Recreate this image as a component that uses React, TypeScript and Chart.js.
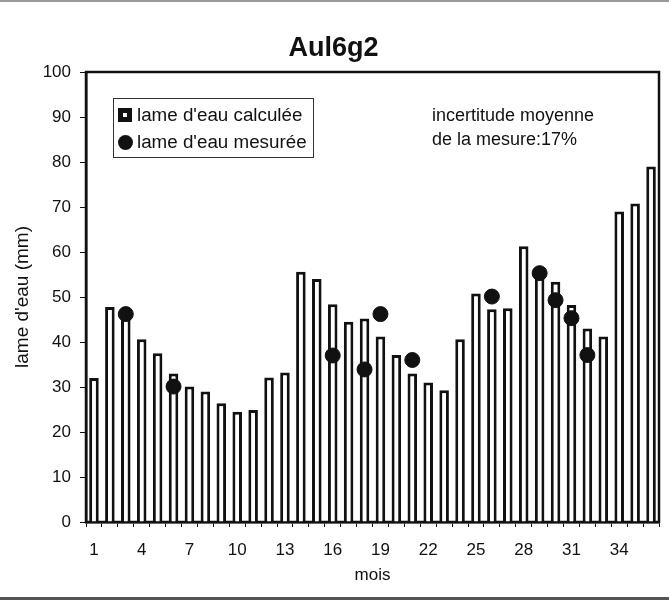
import React, { useEffect, useRef } from "react";
import { Chart, registerables } from "chart.js";

Chart.register(...registerables);

const months: string[] = Array.from({ length: 36 }, (_, i) => String(i + 1));

const calculee: number[] = [
  32, 47.8, 47, 40.6, 37.5, 33, 30.1, 29, 26.4, 24.5, 24.9, 32.1,
  33.2, 55.6, 54, 48.4, 44.5, 45.2, 41.2, 37.1, 33, 31, 29.3, 40.6,
  50.8, 47.3, 47.5, 61.3, 56.6, 53.4, 48.2, 43, 41.2, 69, 70.8, 79,
];

const mesuree: (number | null)[] = [
  null, null, 46.2, null, null, 30.1, null, null, null, null, null, null,
  null, null, null, 37, null, 33.9, 46.2, null, 36, null, null, null,
  null, 50.1, null, null, 55.3, 49.3, 45.3, 37.1, null, null, null, null,
];

const yTicks: number[] = [0, 10, 20, 30, 40, 50, 60, 70, 80, 90, 100];

const FONT = "'Liberation Sans', Arial, sans-serif";

const framePlugin = {
  id: "frame",
  beforeDatasetsDraw(chart: any) {
    const { ctx, chartArea } = chart;
    ctx.save();
    ctx.strokeStyle = "#111";
    ctx.lineWidth = 2.5;
    ctx.strokeRect(chartArea.left, chartArea.top, chartArea.right - chartArea.left, chartArea.bottom - chartArea.top);
    ctx.restore();
  },
};

export default function App() {
  const ref = useRef<HTMLCanvasElement | null>(null);

  useEffect(() => {
    document.body.style.margin = "0";
    const canvas = ref.current;
    if (!canvas) return;
    const chart = new Chart(canvas, {
      type: "bar",
      data: {
        labels: months,
        datasets: [
          {
            type: "line" as any,
            label: "lame d'eau mesurée",
            data: mesuree as any,
            showLine: false,
            pointRadius: 7.5,
            pointBackgroundColor: "#111",
            pointBorderColor: "#111",
            order: 0,
          } as any,
          {
            type: "bar",
            label: "lame d'eau calculée",
            data: calculee,
            backgroundColor: "#fff",
            borderColor: "#111",
            borderWidth: 3,
            categoryPercentage: 1,
            barPercentage: 0.6,
            order: 1,
          },
        ],
      },
      options: {
        responsive: false,
        animation: false,
        layout: { padding: { left: 8, right: 10, top: 0, bottom: 18 } },
        plugins: {
          legend: { display: false },
          tooltip: { enabled: false },
          title: {
            display: true,
            text: "Aul6g2",
            color: "#111",
            font: { family: FONT, size: 27, weight: "bold" },
            padding: { top: 32, bottom: 7.6 },
          },
        },
        scales: {
          x: {
            type: "category",
            offset: true,
            afterFit: (scale: any) => {
              scale.height = 64;
            },
            border: { display: true, color: "#111", width: 2.5 },
            grid: { display: true, offset: true, drawOnChartArea: false, drawTicks: true, tickLength: 5, color: "#111" },
            ticks: {
              autoSkip: false,
              maxRotation: 0,
              padding: 13,
              color: "#111",
              font: { family: FONT, size: 17 },
              callback: (_v: any, i: number) => (i % 3 === 0 ? months[i] : ""),
            },
            title: {
              display: true,
              text: "mois",
              color: "#111",
              font: { family: FONT, size: 17 },
              padding: { top: 0, bottom: 0 },
            },
          },
          y: {
            min: 0,
            max: 100,
            afterBuildTicks: (scale: any) => {
              scale.ticks = yTicks.map((v) => ({ value: v }));
            },
            afterFit: (scale: any) => {
              scale.width = 78;
            },
            border: { display: true, color: "#111", width: 2.5 },
            grid: { display: true, drawOnChartArea: false, drawTicks: true, tickLength: 6, color: "#111" },
            ticks: {
              padding: 9,
              color: "#111",
              font: { family: FONT, size: 17 },
            },
            title: {
              display: true,
              text: "lame d'eau (mm)",
              color: "#111",
              font: { family: FONT, size: 19 },
              padding: { top: 3, bottom: 0 },
            },
          },
        },
      },
      plugins: [framePlugin],
    });
    return () => chart.destroy();
  }, []);

  const row: React.CSSProperties = {
    position: "absolute",
    left: 4,
    fontFamily: FONT,
    fontSize: 18.8,
    color: "#111",
    display: "flex",
    alignItems: "center",
    height: 24,
    whiteSpace: "nowrap",
  };

  return (
    <div style={{ position: "relative", width: 669, height: 604, background: "#fff" }}>
      <canvas ref={ref} width={669} height={604} style={{ width: 669, height: 604, display: "block" }} />
      <div style={{ position: "absolute", left: 0, top: 0, width: 669, height: 2, background: "#999" }} />
      <div style={{ position: "absolute", left: 0, top: 597, width: 669, height: 3, background: "#555" }} />
      <div
        style={{
          position: "absolute",
          left: 113,
          top: 98,
          width: 201,
          height: 60,
          border: "1px solid #333",
          background: "#fff",
          boxSizing: "border-box",
        }}
      >
        <div style={{ ...row, top: 4 }}>
          <span
            style={{
              display: "inline-block",
              width: 4,
              height: 4,
              border: "5px solid #111",
              marginRight: 5,
              background: "#fff",
            }}
          />
          lame d'eau calculée
        </div>
        <div style={{ ...row, top: 31 }}>
          <span
            style={{ display: "inline-block", width: 15, height: 15, borderRadius: "50%", background: "#111", marginRight: 4 }}
          />
          lame d'eau mesurée
        </div>
      </div>
      <div
        style={{
          position: "absolute",
          left: 432,
          top: 103,
          fontFamily: FONT,
          fontSize: 18,
          lineHeight: "24px",
          color: "#111",
          whiteSpace: "nowrap",
        }}
      >
        incertitude moyenne
        <br />
        de la mesure:17%
      </div>
    </div>
  );
}
